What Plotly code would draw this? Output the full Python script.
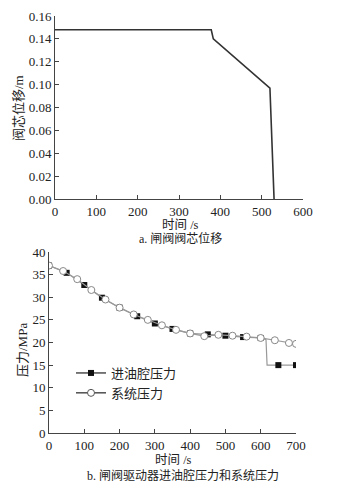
import plotly.graph_objects as go

# Top chart: valve spool displacement
disp_t = [0, 378, 383, 520, 530]
disp_v = [0.148, 0.148, 0.140, 0.097, 0.0]

# Bottom chart: system pressure (circles) and inlet chamber pressure (squares)
sys_t = [0, 40, 80, 120, 160, 200, 240, 280, 320, 360, 400, 440, 480, 520, 560, 600, 640, 680, 700]
sys_p = [37.0, 35.8, 34.0, 31.6, 29.5, 27.7, 26.2, 25.0, 23.8, 22.8, 22.0, 21.4, 21.7, 21.5, 21.3, 21.0, 20.5, 19.9, 19.7]

in_t = [0, 50, 100, 150, 200, 250, 300, 350, 400, 450, 500, 550, 600, 615, 618, 650, 700]
in_p = [37.0, 35.4, 32.7, 29.9, 27.7, 25.8, 24.2, 23.0, 22.0, 21.8, 21.5, 21.2, 21.0, 20.6, 15.0, 15.0, 15.0]
in_marker_t = [0, 50, 100, 150, 200, 250, 300, 350, 400, 450, 500, 550, 600, 650, 700]
in_marker_p = [37.0, 35.4, 32.7, 29.9, 27.7, 25.8, 24.2, 23.0, 22.0, 21.8, 21.5, 21.2, 21.0, 15.0, 15.0]

FONT = "Liberation Serif, Noto Sans CJK SC, serif"
AX = "#444444"
LINE = "#999999"

fig = go.Figure()
fig.add_trace(go.Scatter(x=disp_t, y=disp_v, mode="lines", line=dict(color="#333333", width=1.6),
                         xaxis="x", yaxis="y", showlegend=False))

fig.add_trace(go.Scatter(x=in_t, y=in_p, mode="lines", line=dict(color=LINE, width=1.2),
                         xaxis="x2", yaxis="y2", showlegend=False))
fig.add_trace(go.Scatter(x=in_marker_t, y=in_marker_p, mode="markers",
                         marker=dict(symbol="square", size=6, color="#111111", line=dict(width=0)),
                         xaxis="x2", yaxis="y2", showlegend=False))
fig.add_trace(go.Scatter(x=sys_t, y=sys_p, mode="lines+markers", line=dict(color=LINE, width=1.2),
                         marker=dict(symbol="circle", size=7, color="white", line=dict(color="#888888", width=1)),
                         xaxis="x2", yaxis="y2", showlegend=False))
# legend proxies
fig.add_trace(go.Scatter(x=[None], y=[None], mode="lines+markers", name="进油腔压力",
                         line=dict(color="#222222", width=1.2),
                         marker=dict(symbol="square", size=6, color="#111111"),
                         xaxis="x2", yaxis="y2"))
fig.add_trace(go.Scatter(x=[None], y=[None], mode="lines+markers", name="系统压力",
                         line=dict(color="#222222", width=1.2),
                         marker=dict(symbol="circle", size=7, color="white", line=dict(color="#555555", width=1)),
                         xaxis="x2", yaxis="y2"))

# page body has an 8px default margin; place everything in window pixel coordinates
OFF = 8
W, H = 358 - OFF, 486 - OFF
def px(x): return (x - OFF) / W
def py(y): return 1 - (y - OFF) / H

axis_common = dict(showgrid=False, zeroline=False, showline=True, linecolor=AX, linewidth=1,
                   ticks="inside", ticklen=4, tickcolor=AX, mirror=False, automargin=False,
                   tickfont=dict(family=FONT, size=13, color="#222222"))

def ann(text, x, y, size=13, angle=0):
    return dict(text=text, x=px(x), y=py(y), xref="paper", yref="paper", showarrow=False,
                textangle=angle, xanchor="center", yanchor="middle",
                font=dict(family=FONT, size=size, color="#222222"))

fig.update_layout(
    width=W, height=H, margin=dict(l=0, r=0, t=0, b=0, autoexpand=False),
    paper_bgcolor="white", plot_bgcolor="white",
    font=dict(family=FONT, color="#222222"),
    xaxis=dict(domain=[px(55), px(303)], anchor="y", range=[0, 600], tickvals=[0, 100, 200, 300, 400, 500, 600],
               **axis_common),
    yaxis=dict(domain=[py(199), py(16)], anchor="x", range=[0, 0.16],
               tickvals=[0, 0.02, 0.04, 0.06, 0.08, 0.10, 0.12, 0.14, 0.16], tickformat=".2f",
               **axis_common),
    xaxis2=dict(domain=[px(49), px(296)], anchor="y2", range=[0, 700], tickvals=[0, 100, 200, 300, 400, 500, 600, 700],
                **axis_common),
    yaxis2=dict(domain=[py(433), py(252)], anchor="x2", range=[0, 40],
                tickvals=[0, 5, 10, 15, 20, 25, 30, 35, 40],
                **axis_common),
    legend=dict(x=px(71), y=py(358), xanchor="left", yanchor="top", bgcolor="rgba(0,0,0,0)",
                font=dict(family=FONT, size=13), tracegroupgap=0, itemwidth=30),
    annotations=[
        ann("时间 /s", 180, 224.5, size=12.5),
        ann("阀芯位移/m", 18, 108, angle=-90),
        ann("时间 /s", 173, 459.5, size=12.5),
        ann("压力/MPa", 22, 350, angle=-90),
        ann("a. 闸阀阀芯位移", 180, 239, size=12),
        ann("b. 闸阀驱动器进油腔压力和系统压力", 183, 475, size=12),
    ],
)

fig.write_html("out.html")
